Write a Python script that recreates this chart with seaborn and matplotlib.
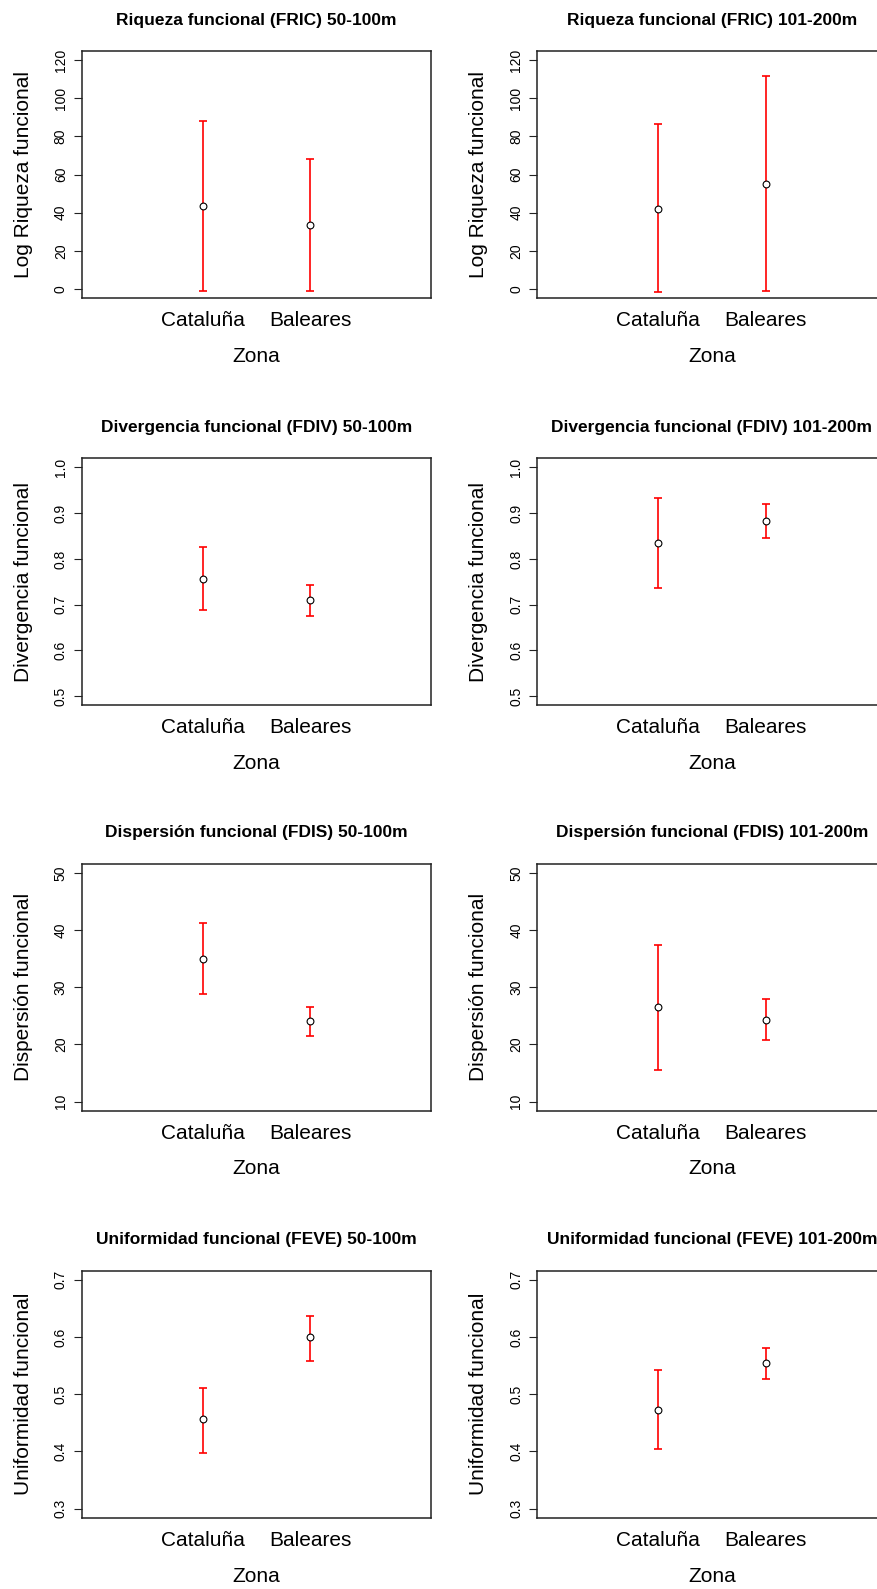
import matplotlib
matplotlib.use("Agg")
import matplotlib.pyplot as plt
import seaborn as sns
import numpy as np

# --- Configuração ---
sns.set_style("ticks")
plt.rcParams['font.family'] = ['Liberation Sans', 'DejaVu Sans']
plt.rcParams['text.color'] = 'black'
plt.rcParams['axes.labelcolor'] = 'black'
plt.rcParams['xtick.color'] = 'black'
plt.rcParams['ytick.color'] = 'black'

# --- Dados ---
zonas = ["Cataluña", "Baleares"]
pos_x = [1, 2]

fric_50_media = [43.5, 33.5]
fric_50_inf = [-1.0, -1.0]
fric_50_sup = [88.0, 68.0]
fric_101_media = [42.1, 55.0]
fric_101_inf = [-1.6, -0.9]
fric_101_sup = [86.5, 111.6]

fdiv_50_media = [0.757, 0.710]
fdiv_50_inf = [0.688, 0.676]
fdiv_50_sup = [0.827, 0.743]
fdiv_101_media = [0.8355, 0.884]
fdiv_101_inf = [0.736, 0.845]
fdiv_101_sup = [0.9335, 0.919]

fdis_50_media = [35.0, 24.1]
fdis_50_inf = [28.8, 21.45]
fdis_50_sup = [41.2, 26.6]
fdis_101_media = [26.45, 24.3]
fdis_101_inf = [15.5, 20.75]
fdis_101_sup = [37.4, 27.85]

feve_50_media = [0.456, 0.600]
feve_50_inf = [0.398, 0.558]
feve_50_sup = [0.510, 0.637]
feve_101_media = [0.472, 0.554]
feve_101_inf = [0.405, 0.527]
feve_101_sup = [0.542, 0.5805]

titulos = [
    ("Riqueza funcional (FRIC) 50-100m", "Riqueza funcional (FRIC) 101-200m"),
    ("Divergencia funcional (FDIV) 50-100m", "Divergencia funcional (FDIV) 101-200m"),
    ("Dispersión funcional (FDIS) 50-100m", "Dispersión funcional (FDIS) 101-200m"),
    ("Uniformidad funcional (FEVE) 50-100m", "Uniformidad funcional (FEVE) 101-200m"),
]
ylabels = ["Log Riqueza funcional", "Divergencia funcional",
           "Dispersión funcional", "Uniformidad funcional"]
yticks = [
    [0, 20, 40, 60, 80, 100, 120],
    [0.5, 0.6, 0.7, 0.8, 0.9, 1.0],
    [10, 20, 30, 40, 50],
    [0.3, 0.4, 0.5, 0.6, 0.7],
]
series = [
    ((fric_50_media, fric_50_inf, fric_50_sup), (fric_101_media, fric_101_inf, fric_101_sup)),
    ((fdiv_50_media, fdiv_50_inf, fdiv_50_sup), (fdiv_101_media, fdiv_101_inf, fdiv_101_sup)),
    ((fdis_50_media, fdis_50_inf, fdis_50_sup), (fdis_101_media, fdis_101_inf, fdis_101_sup)),
    ((feve_50_media, feve_50_inf, feve_50_sup), (feve_101_media, feve_101_inf, feve_101_sup)),
]

# --- Layout em pixels (figura 877x1589) ---
W, H = 877, 1589
fig = plt.figure(figsize=(W / 100, H / 100), dpi=100)
col_x = [82, 537.3]
row_top = [51, 458.3, 863.7, 1270.7]
box_w, box_h = 349, 247


def r_lim(lo, hi):
    # expansão de 4% como no R
    d = (hi - lo) * 0.04
    return lo - d, hi + d


for i in range(4):
    for j in range(2):
        ax = fig.add_axes([col_x[j] / W, 1 - (row_top[i] + box_h) / H, box_w / W, box_h / H])
        media, inf, sup = series[i][j]
        media = np.array(media)
        err = [media - np.array(inf), np.array(sup) - media]

        ax.errorbar(pos_x, media, yerr=err, fmt='none', ecolor='red',
                    elinewidth=1.2, capsize=2.9, capthick=1.2, zorder=2)
        sns.scatterplot(x=pos_x, y=media, ax=ax, marker='o', s=24,
                        facecolor='white', edgecolor='black', linewidth=0.8, zorder=3)

        ax.set_xlim(r_lim(0, 3))
        ax.set_ylim(r_lim(yticks[i][0], yticks[i][-1]))
        ax.set_yticks(yticks[i])
        ax.set_yticklabels([f"{t:g}" if i in (0, 2) else f"{t:.1f}" for t in yticks[i]])
        ax.set_xticks(pos_x)
        ax.set_xticklabels(zonas, fontsize=15)
        ax.tick_params(axis='x', length=0, pad=9.5)
        ax.tick_params(axis='y', length=5.8, width=0.8, labelsize=10, pad=4.4,
                       labelrotation=90, color='#222222')
        for lab in ax.get_yticklabels():
            lab.set_va('center')

        for sp in ax.spines.values():
            sp.set_linewidth(1.1)
            sp.set_color('#222222')

        ax.set_title(titulos[i][j], fontsize=12.5, fontweight='bold', pad=19)
        ax.set_ylabel(ylabels[i], fontsize=15)
        ax.yaxis.set_label_coords(-49 / box_w, 0.5)
        ax.set_xlabel("Zona", fontsize=15)
        ax.xaxis.set_label_coords(0.5, -48.8 / box_h)

fig.savefig("out.png", dpi=100)
